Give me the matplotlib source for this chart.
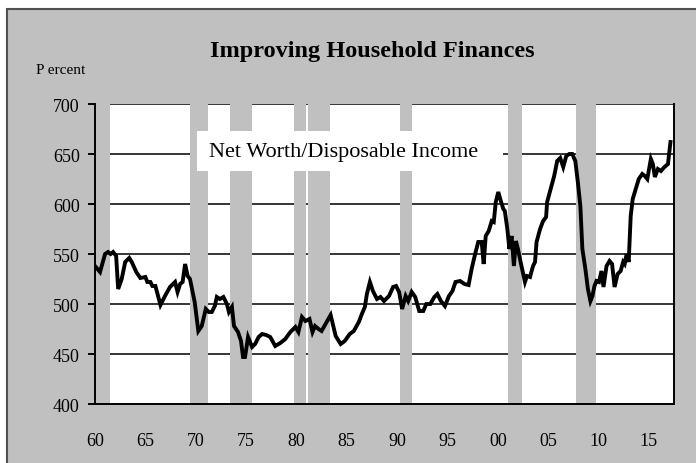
import matplotlib
matplotlib.use("Agg")
import matplotlib.pyplot as plt
from matplotlib.patches import Rectangle

# ---- data ----
years = [1960.0, 1960.5, 1961.0, 1961.3, 1961.55, 1961.8, 1962.1, 1962.3, 1962.65, 1963.0,
         1963.4, 1963.65, 1964.1, 1964.5, 1965.0, 1965.2, 1965.5, 1965.7, 1966.0, 1966.5,
         1966.95, 1967.45, 1967.95, 1968.2, 1968.45, 1968.7, 1968.95, 1969.2, 1969.43, 1969.9,
         1970.26, 1970.6, 1971.0, 1971.3, 1971.6, 1971.9, 1972.1, 1972.4, 1972.75, 1973.1,
         1973.3, 1973.6, 1973.8, 1974.2, 1974.5, 1974.7, 1974.9, 1975.2, 1975.6, 1975.9,
         1976.25, 1976.6, 1977.0, 1977.4, 1977.9, 1978.4, 1978.9, 1979.4, 1979.9, 1980.2,
         1980.55, 1980.9, 1981.3, 1981.6, 1981.85, 1982.2, 1982.5, 1983.0, 1983.4, 1983.9,
         1984.4, 1984.8, 1985.3, 1985.7, 1986.2, 1986.5, 1986.8, 1987.0, 1987.3, 1987.6,
         1988.0, 1988.35, 1988.7, 1989.2, 1989.6, 1989.9, 1990.2, 1990.5, 1990.85, 1991.1,
         1991.45, 1991.8, 1992.2, 1992.6, 1992.9, 1993.3, 1993.7, 1994.0, 1994.35, 1994.75,
         1995.15, 1995.5, 1995.8, 1996.25, 1996.7, 1997.1, 1997.4, 1997.75, 1998.06, 1998.4,
         1998.6, 1998.8, 1999.1, 1999.4, 1999.6, 1999.8, 2000.05, 2000.3, 2000.55, 2000.7,
         2000.95, 2001.15, 2001.37, 2001.6, 2001.8, 2002.0, 2002.35, 2002.7, 2002.9, 2003.2,
         2003.5, 2003.7, 2003.85, 2004.2, 2004.5, 2004.8, 2004.9, 2005.25, 2005.6, 2005.9,
         2006.2, 2006.5, 2006.8, 2007.1, 2007.4, 2007.7, 2007.95, 2008.2, 2008.4, 2008.7,
         2008.95, 2009.2, 2009.4, 2009.6, 2009.8, 2010.05, 2010.3, 2010.5, 2010.8, 2011.1,
         2011.35, 2011.6, 2011.9, 2012.2, 2012.45, 2012.6, 2012.8, 2013.0, 2013.2, 2013.4,
         2013.7, 2014.0, 2014.35, 2014.6, 2014.85, 2015.2, 2015.4, 2015.6, 2015.9, 2016.2,
         2016.55, 2016.9, 2017.15]
net_worth_ratio = [538, 532, 550, 552, 550, 552, 548, 515, 525, 542,
                   546, 542, 532, 526, 527, 522, 522, 518, 518, 499,
                   508, 517, 522, 512, 520, 522, 540, 528, 525, 502,
                   473, 478, 495, 492, 492, 498, 507, 505, 507, 500,
                   492, 497, 478, 472, 463, 447, 447, 467, 457, 460,
                   467, 470, 469, 467, 458, 461, 465, 472, 477, 472,
                   487, 483, 485, 472, 478, 475, 473, 482, 489, 468,
                   460, 463, 470, 473, 482, 490, 497, 510, 522, 513,
                   505, 507, 503, 508, 517, 518, 512, 495, 508, 503,
                   512, 507, 493, 493, 500, 500, 507, 510, 503, 498,
                   508, 513, 522, 523, 520, 519, 535, 550, 562, 562,
                   540, 568, 573, 583, 582, 602, 612, 603, 595, 593,
                   575, 555, 568, 538, 563, 555, 538, 522, 528, 527,
                   538, 542, 562, 575, 583, 587, 602, 615, 628, 643,
                   646, 637, 648, 650, 650, 643, 622, 598, 555, 535,
                   515, 503, 508, 518, 523, 522, 533, 517, 538, 543,
                   540, 517, 530, 533, 542, 540, 550, 542, 588, 605,
                   615, 625, 630, 628, 625, 645, 640, 627, 635, 633,
                   637, 640, 662]

recession_starts = [1960.0, 1969.43, 1973.4, 1979.76, 1981.2, 1990.3, 2001.0, 2007.77]
recession_ends = [1961.5, 1971.2, 1975.56, 1980.92, 1983.3, 1991.45, 2002.37, 2009.75]

x_tick_years = [1960, 1965, 1970, 1975, 1980, 1985, 1990, 1995, 2000, 2005, 2010, 2015]
x_tick_labels = ["60", "65", "70", "75", "80", "85", "90", "95", "00", "05", "10", "15"]
y_ticks = [400, 450, 500, 550, 600, 650, 700]

title_text = "Improving Household Finances"
unit_text = "P ercent"
series_label = "Net Worth/Disposable Income"

# ---- figure ----
SERIF = ["Liberation Serif", "DejaVu Serif"]
GREY = "#c0c0c0"

fig = plt.figure(figsize=(6.96, 4.64), dpi=100, facecolor="white")
bg = Rectangle((7 / 696, -0.05), 1.1, 1 - 10 / 464 + 0.05, transform=fig.transFigure,
               facecolor=GREY, edgecolor="#505050", linewidth=1.5, zorder=-10)
fig.patches.append(bg)

ax = fig.add_axes([95 / 696, 1 - 405 / 464, (674 - 95) / 696, 300 / 464])
ax.set_zorder(1)
ax.set_facecolor("white")
ax.set_xlim(1960, 2017.5)
ax.set_ylim(400, 700)

# gridlines
for yv in y_ticks[1:]:
    ax.axhline(yv, color="black", linewidth=1.1, zorder=1)

# recession shading
for s, e in zip(recession_starts, recession_ends):
    ax.axvspan(s, e, color=GREY, linewidth=0, zorder=2)

# series
ax.plot(years, net_worth_ratio, color="black", linewidth=2.8, solid_joinstyle="miter", zorder=4)

# label box (white panel behind the series label)
ax.add_patch(Rectangle((1970.15, 633), 30.4, 40, facecolor="white", edgecolor="none", zorder=3))
ax.text(1984.7, 652.5, series_label, family=SERIF, fontsize=16, ha="center", va="center",
        zorder=5)

# axes styling
for side in ["left", "bottom", "right"]:
    ax.spines[side].set_color("black")
    ax.spines[side].set_linewidth(1.4)
    ax.spines[side].set_zorder(6)
ax.spines["top"].set_visible(False)

ax.set_yticks(y_ticks)
ax.set_yticklabels([str(v) for v in y_ticks], family=SERIF, fontsize=13)
ax.tick_params(axis="y", direction="out", length=5, width=1.4, pad=6, colors="black")
ax.set_xticks(x_tick_years)
ax.set_xticklabels(x_tick_labels, family=SERIF, fontsize=13)
ax.tick_params(axis="x", length=0, pad=20)

fig.text(372 / 696, 1 - 52 / 464, title_text, family=SERIF, fontsize=17.5,
         fontweight="bold", ha="center", va="center")
fig.text(36 / 696, 1 - 70 / 464, unit_text, family=SERIF, fontsize=11,
         ha="left", va="center")

fig.savefig("out.png", dpi=100, facecolor=fig.get_facecolor())
